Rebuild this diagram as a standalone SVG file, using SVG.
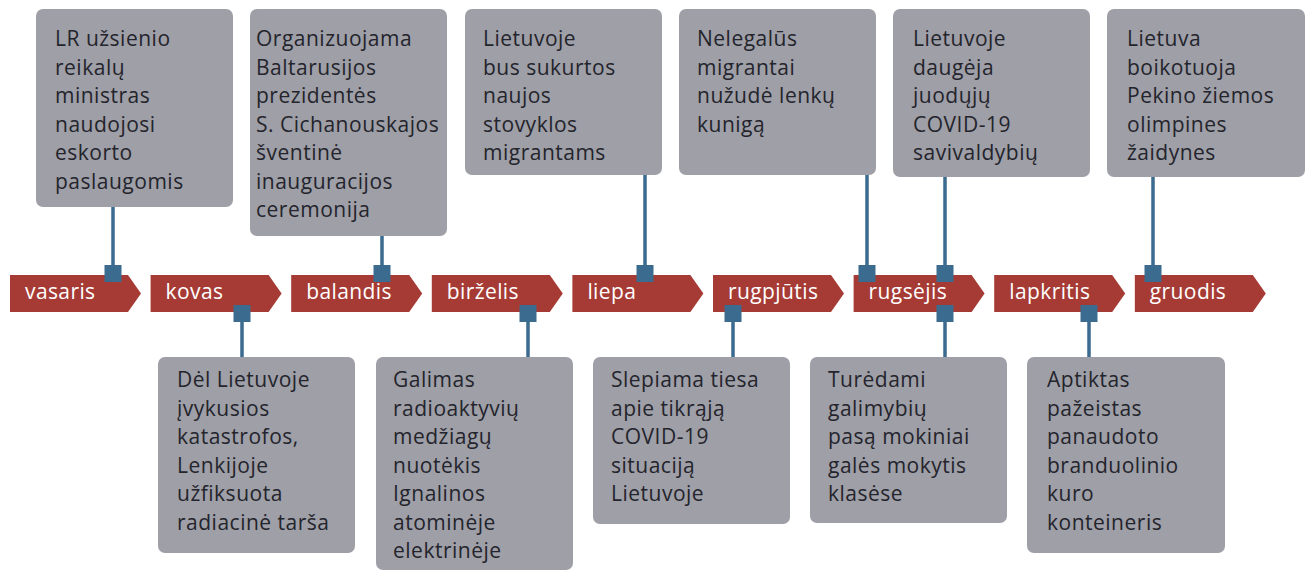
<svg xmlns="http://www.w3.org/2000/svg" xmlns:xlink="http://www.w3.org/1999/xlink" width="1310" height="572" viewBox="0 0 1310 572">
<style>
.box{fill:#9e9fa7;}
.bt{font-family:"Open Sans","Noto Sans","DejaVu Sans",sans-serif;font-size:21px;letter-spacing:0.5px;fill:#24242c;}
.arrow{fill:#a63b35;}
.al{font-family:"Open Sans","Noto Sans","DejaVu Sans",sans-serif;font-size:21px;letter-spacing:0.4px;fill:#ffffff;}
.ln{stroke:#3b6b8e;stroke-width:3.5;fill:none;}
.sq{fill:#3b6b8e;}
</style>
<defs>
<path id="arr" d="M0 275 H118 L131 293.5 L118 312 H0 Z"/>
<rect id="sq" x="-8.5" y="-8.5" width="17" height="17"/>
</defs>
<rect width="1310" height="572" fill="#ffffff"/>

<g id="timeline">
<g id="m-vasaris" transform="translate(10,0)"><use xlink:href="#arr" class="arrow"/><text class="al" x="15" y="299">vasaris</text></g>
<g id="m-kovas" transform="translate(150.6,0)"><use xlink:href="#arr" class="arrow"/><text class="al" x="15" y="299">kovas</text></g>
<g id="m-balandis" transform="translate(291.2,0)"><use xlink:href="#arr" class="arrow"/><text class="al" x="15" y="299">balandis</text></g>
<g id="m-birzelis" transform="translate(431.8,0)"><use xlink:href="#arr" class="arrow"/><text class="al" x="15" y="299">birželis</text></g>
<g id="m-liepa" transform="translate(572.4,0)"><use xlink:href="#arr" class="arrow"/><text class="al" x="15" y="299">liepa</text></g>
<g id="m-rugpjutis" transform="translate(713,0)"><use xlink:href="#arr" class="arrow"/><text class="al" x="15" y="299">rugpjūtis</text></g>
<g id="m-rugsejis" transform="translate(853.6,0)"><use xlink:href="#arr" class="arrow"/><text class="al" x="15" y="299">rugsėjis</text></g>
<g id="m-lapkritis" transform="translate(994.2,0)"><use xlink:href="#arr" class="arrow"/><text class="al" x="15" y="299">lapkritis</text></g>
<g id="m-gruodis" transform="translate(1134.8,0)"><use xlink:href="#arr" class="arrow"/><text class="al" x="15" y="299">gruodis</text></g>
</g>

<g id="connectors">
<path class="ln" d="M113 207 V273 M382 236 V273 M645 175 V273 M867 175 V273 M945 177 V273 M1153 177 V273"/>
<path class="ln" d="M242 313 V357 M528 313 V357 M733 313 V357 M945 313 V357 M1089 313 V357"/>
<use xlink:href="#sq" class="sq" x="113" y="273.5"/>
<use xlink:href="#sq" class="sq" x="382" y="273.5"/>
<use xlink:href="#sq" class="sq" x="645" y="273.5"/>
<use xlink:href="#sq" class="sq" x="867" y="273.5"/>
<use xlink:href="#sq" class="sq" x="945" y="273.5"/>
<use xlink:href="#sq" class="sq" x="1153" y="273.5"/>
<use xlink:href="#sq" class="sq" x="242" y="313.5"/>
<use xlink:href="#sq" class="sq" x="528" y="313.5"/>
<use xlink:href="#sq" class="sq" x="733" y="313.5"/>
<use xlink:href="#sq" class="sq" x="945" y="313.5"/>
<use xlink:href="#sq" class="sq" x="1089" y="313.5"/>
</g>

<g id="e-vasaris">
<rect class="box" x="36" y="9" width="197" height="198" rx="7"/>
<text class="bt" x="55" y="46"><tspan x="55">LR užsienio</tspan><tspan x="55" dy="28.5">reikalų</tspan><tspan x="55" dy="28.5">ministras</tspan><tspan x="55" dy="28.5">naudojosi</tspan><tspan x="55" dy="28.5">eskorto</tspan><tspan x="55" dy="28.5">paslaugomis</tspan></text>
</g>
<g id="e-balandis">
<rect class="box" x="250" y="9" width="197" height="227" rx="7"/>
<text class="bt" x="256" y="46"><tspan x="256">Organizuojama</tspan><tspan x="256" dy="28.5">Baltarusijos</tspan><tspan x="256" dy="28.5">prezidentės</tspan><tspan x="256" dy="28.5">S. Cichanouskajos</tspan><tspan x="256" dy="28.5">šventinė</tspan><tspan x="256" dy="28.5">inauguracijos</tspan><tspan x="256" dy="28.5">ceremonija</tspan></text>
</g>
<g id="e-liepa">
<rect class="box" x="465" y="9" width="197" height="166" rx="7"/>
<text class="bt" x="483" y="46"><tspan x="483">Lietuvoje</tspan><tspan x="483" dy="28.5">bus sukurtos</tspan><tspan x="483" dy="28.5">naujos</tspan><tspan x="483" dy="28.5">stovyklos</tspan><tspan x="483" dy="28.5">migrantams</tspan></text>
</g>
<g id="e-rugsejis-1">
<rect class="box" x="679" y="9" width="197" height="166" rx="7"/>
<text class="bt" x="697" y="46"><tspan x="697">Nelegalūs</tspan><tspan x="697" dy="28.5">migrantai</tspan><tspan x="697" dy="28.5">nužudė lenkų</tspan><tspan x="697" dy="28.5">kunigą</tspan></text>
</g>
<g id="e-rugsejis-2">
<rect class="box" x="893" y="9" width="197" height="168" rx="7"/>
<text class="bt" x="913" y="46"><tspan x="913">Lietuvoje</tspan><tspan x="913" dy="28.5">daugėja</tspan><tspan x="913" dy="28.5">juodųjų</tspan><tspan x="913" dy="28.5">COVID-19</tspan><tspan x="913" dy="28.5">savivaldybių</tspan></text>
</g>
<g id="e-gruodis">
<rect class="box" x="1107" y="9" width="198" height="168" rx="7"/>
<text class="bt" x="1127" y="46"><tspan x="1127">Lietuva</tspan><tspan x="1127" dy="28.5">boikotuoja</tspan><tspan x="1127" dy="28.5">Pekino žiemos</tspan><tspan x="1127" dy="28.5">olimpines</tspan><tspan x="1127" dy="28.5">žaidynes</tspan></text>
</g>

<g id="e-kovas">
<rect class="box" x="158" y="357" width="197" height="196" rx="7"/>
<text class="bt" x="177" y="387"><tspan x="177">Dėl Lietuvoje</tspan><tspan x="177" dy="28.5">įvykusios</tspan><tspan x="177" dy="28.5">katastrofos,</tspan><tspan x="177" dy="28.5">Lenkijoje</tspan><tspan x="177" dy="28.5">užfiksuota</tspan><tspan x="177" dy="28.5">radiacinė tarša</tspan></text>
</g>
<g id="e-birzelis">
<rect class="box" x="376" y="357" width="197" height="213" rx="7"/>
<text class="bt" x="393" y="387"><tspan x="393">Galimas</tspan><tspan x="393" dy="28.5">radioaktyvių</tspan><tspan x="393" dy="28.5">medžiagų</tspan><tspan x="393" dy="28.5">nuotėkis</tspan><tspan x="393" dy="28.5">Ignalinos</tspan><tspan x="393" dy="28.5">atominėje</tspan><tspan x="393" dy="28.5">elektrinėje</tspan></text>
</g>
<g id="e-rugpjutis">
<rect class="box" x="593" y="357" width="197" height="167" rx="7"/>
<text class="bt" x="611" y="387"><tspan x="611">Slepiama tiesa</tspan><tspan x="611" dy="28.5">apie tikrąją</tspan><tspan x="611" dy="28.5">COVID-19</tspan><tspan x="611" dy="28.5">situaciją</tspan><tspan x="611" dy="28.5">Lietuvoje</tspan></text>
</g>
<g id="e-rugsejis-3">
<rect class="box" x="810" y="357" width="197" height="166" rx="7"/>
<text class="bt" x="828" y="387"><tspan x="828">Turėdami</tspan><tspan x="828" dy="28.5">galimybių</tspan><tspan x="828" dy="28.5">pasą mokiniai</tspan><tspan x="828" dy="28.5">galės mokytis</tspan><tspan x="828" dy="28.5">klasėse</tspan></text>
</g>
<g id="e-lapkritis">
<rect class="box" x="1027" y="357" width="198" height="196" rx="7"/>
<text class="bt" x="1047" y="387"><tspan x="1047">Aptiktas</tspan><tspan x="1047" dy="28.5">pažeistas</tspan><tspan x="1047" dy="28.5">panaudoto</tspan><tspan x="1047" dy="28.5">branduolinio</tspan><tspan x="1047" dy="28.5">kuro</tspan><tspan x="1047" dy="28.5">konteineris</tspan></text>
</g>
</svg>
